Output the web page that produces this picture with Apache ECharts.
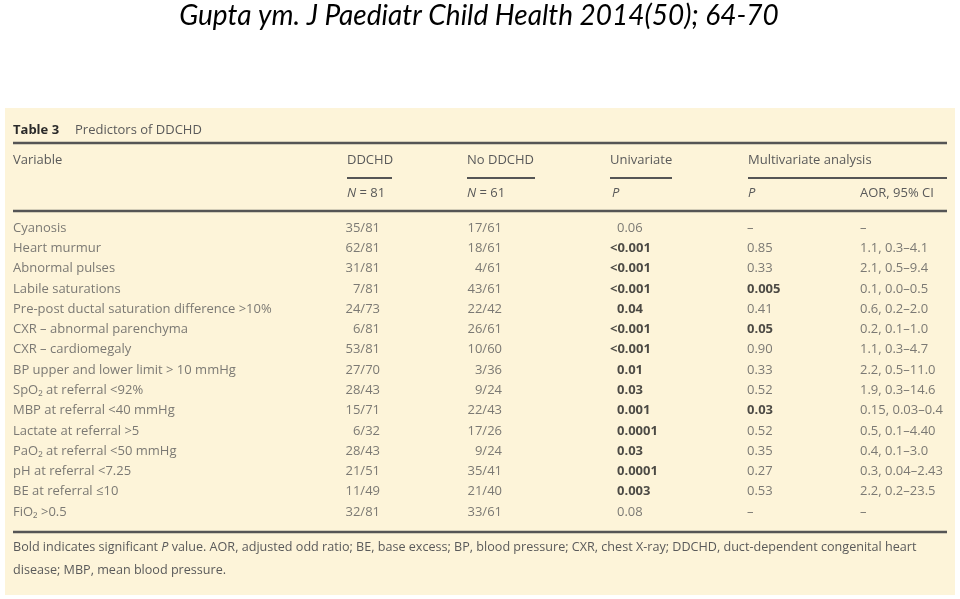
<!DOCTYPE html>
<html>
<head>
<meta charset="utf-8">
<script src="https://cdn.jsdelivr.net/npm/echarts@6/dist/echarts.min.js"></script>
<style>html,body{margin:0;padding:0;background:#fff;}#c{width:960px;height:599px;}</style>
</head>
<body>
<div id="c"></div>
<script>
// ---- Data ----
var variables = ["Cyanosis","Heart murmur","Abnormal pulses","Labile saturations","Pre-post ductal saturation difference >10%","CXR – abnormal parenchyma","CXR – cardiomegaly","BP upper and lower limit > 10 mmHg","SpO\u2082 at referral <92%","MBP at referral <40 mmHg","Lactate at referral >5","PaO\u2082 at referral <50 mmHg","pH at referral <7.25","BE at referral \u226410","FiO\u2082 >0.5"];
var ddchd = ["35/81","62/81","31/81","7/81","24/73","6/81","53/81","27/70","28/43","15/71","6/32","28/43","21/51","11/49","32/81"];
var noDdchd = ["17/61","18/61","4/61","43/61","22/42","26/61","10/60","3/36","9/24","22/43","17/26","9/24","35/41","21/40","33/61"];
var uniP = ["0.06","<0.001","<0.001","<0.001","0.04","<0.001","<0.001","0.01","0.03","0.001","0.0001","0.03","0.0001","0.003","0.08"];
var uniBold = [false,true,true,true,true,true,true,true,true,true,true,true,true,true,false];
var multiP = ["\u2013","0.85","0.33","0.005","0.41","0.05","0.90","0.33","0.52","0.03","0.52","0.35","0.27","0.53","\u2013"];
var multiBold = [false,false,false,true,false,true,false,false,false,true,false,false,false,false,false];
var aor = ["\u2013","1.1, 0.3\u20134.1","2.1, 0.5\u20139.4","0.1, 0.0\u20130.5","0.6, 0.2\u20132.0","0.2, 0.1\u20131.0","1.1, 0.3\u20134.7","2.2, 0.5\u201311.0","1.9, 0.3\u201314.6","0.15, 0.03\u20130.4","0.5, 0.1\u20134.40","0.4, 0.1\u20133.0","0.3, 0.04\u20132.43","2.2, 0.2\u201323.5","\u2013"];

// ---- Layout / style ----
var FONT = "'Open Sans', 'Noto Sans', sans-serif";
var FS = 13;
var GREY = '#5a5a5a';
var DARK = '#1e1e1e';
var RULE = '#555555';
var colX = {variable: 13, ddchd: 380, noDdchd: 502, uni: 617, multi: 747, aor: 860};

function textSeries(name, x, texts, side, boldArr) {
  return {
    type: 'scatter', name: name, symbolSize: 0, silent: true,
    data: texts.map(function (t, i) {
      var bold = boldArr ? boldArr[i] : false;
      var lbl = {
        fontWeight: bold ? 'bold' : 'normal',
        color: bold ? DARK : GREY
      };
      if (name === 'uni' && t.charAt(0) === '<') lbl.offset = [-7, 0];
      return {value: [x, variables[i]], label: lbl, name: t};
    }),
    label: {
      show: true, position: side, distance: 0,
      fontFamily: FONT, fontSize: FS, color: GREY,
      formatter: function (p) { return p.name; }
    }
  };
}

function txt(x, y, s, opt) {
  opt = opt || {};
  return {
    type: 'text', x: x, y: y, z: 5,
    style: {text: s, fontFamily: FONT, fontSize: opt.fs || FS, fontWeight: opt.bold ? 'bold' : 'normal',
            fontStyle: opt.italic ? 'italic' : 'normal', fill: opt.color || GREY, rich: opt.rich,
            verticalAlign: 'middle', align: opt.align || 'left'}
  };
}
function rule(x1, x2, y, w) {
  return {type: 'line', z: 4, shape: {x1: x1, y1: y, x2: x2, y2: y}, style: {stroke: RULE, lineWidth: w || 2}};
}
var richI = {i: {fontStyle: 'italic', fontFamily: FONT, fontSize: FS, fill: GREY}};
var richIF = {i: {fontStyle: 'italic', fontFamily: FONT, fontSize: 12.6, fill: GREY}};

var chart = echarts.init(document.getElementById('c'), null, {renderer: 'canvas'});
chart.setOption({
  animation: false,
  backgroundColor: '#ffffff',
  grid: {left: 0, right: 0, top: 218, bottom: 77},
  xAxis: {type: 'value', min: 0, max: 960, show: false},
  yAxis: {type: 'category', data: variables, inverse: true, show: false},
  graphic: [
    {type: 'rect', z: -1, shape: {x: 5, y: 108, width: 950, height: 487}, style: {fill: '#fdf4d9'}},
    {type: 'text', x: 479, y: 16, z: 5, style: {text: 'Gupta ym. J Paediatr Child Health 2014(50); 64-70',
      fontFamily: "Lato, 'Open Sans', sans-serif", fontStyle: 'italic', fontSize: 28, fill: '#000',
      align: 'center', verticalAlign: 'middle'}},
    txt(13, 130, 'Table 3', {bold: true, color: '#2a2a2a'}),
    txt(75, 130, 'Predictors of DDCHD'),
    rule(13, 947, 143, 2.5),
    txt(13, 160, 'Variable'),
    txt(347, 160, 'DDCHD'),
    txt(467, 160, 'No DDCHD'),
    txt(610, 160, 'Univariate'),
    txt(748, 160, 'Multivariate analysis'),
    rule(347, 392, 178, 2),
    rule(467, 535, 178, 2),
    rule(610, 672, 178, 2),
    rule(748, 947, 178, 2),
    txt(347, 193, '{i|N} = 81', {rich: richI}),
    txt(467, 193, '{i|N} = 61', {rich: richI}),
    txt(612, 193, 'P', {italic: true}),
    txt(748, 193, 'P', {italic: true}),
    txt(860, 193, 'AOR, 95% CI'),
    rule(13, 947, 211, 2.5),
    rule(13, 947, 532, 2.5),
    txt(13, 547, 'Bold indicates significant {i|P} value. AOR, adjusted odd ratio; BE, base excess; BP, blood pressure; CXR, chest X-ray; DDCHD, duct-dependent congenital heart', {rich: richIF, fs: 12.6}),
    txt(13, 570, 'disease; MBP, mean blood pressure.', {fs: 12.6})
  ],
  series: [
    textSeries('variable', colX.variable, variables, 'right'),
    textSeries('ddchd', colX.ddchd, ddchd, 'left'),
    textSeries('noDdchd', colX.noDdchd, noDdchd, 'left'),
    textSeries('uni', colX.uni, uniP, 'right', uniBold),
    textSeries('multi', colX.multi, multiP, 'right', multiBold),
    textSeries('aor', colX.aor, aor, 'right')
  ]
});
</script>
</body>
</html>
